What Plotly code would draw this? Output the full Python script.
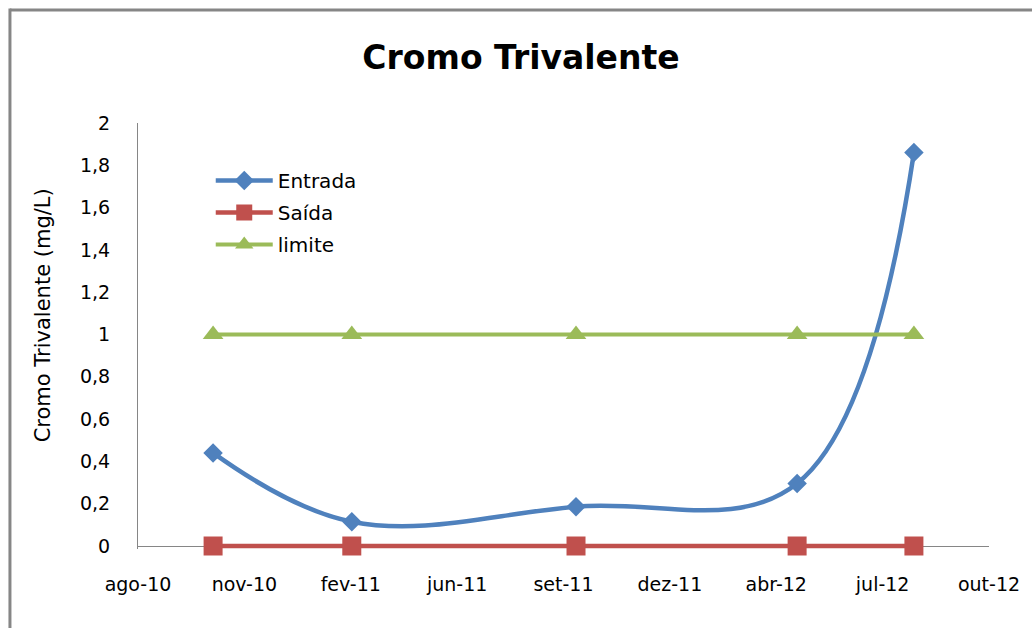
import plotly.graph_objects as go
import pandas as pd

dates = ["2010-10-12", "2011-02-22", "2011-09-25", "2012-04-24", "2012-08-14"]
entrada = [0.44, 0.115, 0.186, 0.296, 1.86]
saida = [0, 0, 0, 0, 0]
limite = [1, 1, 1, 1, 1]

tick_labels = ["ago-10", "nov-10", "fev-11", "jun-11", "set-11", "dez-11", "abr-12", "jul-12", "out-12"]
tick_dates = pd.date_range("2010-08-01", periods=len(tick_labels), freq="102D")

FONT = "DejaVu Sans"

fig = go.Figure()
fig.add_trace(go.Scatter(
    x=dates, y=entrada, name="Entrada", mode="lines+markers", legendgroup="a",
    line=dict(color="#4F81BD", width=4.5, shape="spline", smoothing=1.1),
    marker=dict(symbol="diamond", size=15, color="#4F81BD"), cliponaxis=False))
fig.add_trace(go.Scatter(
    x=dates, y=saida, name="Saída", mode="lines+markers", legendgroup="b",
    line=dict(color="#C0504D", width=4.5),
    marker=dict(symbol="square", size=19, color="#C0504D"), cliponaxis=False))
fig.add_trace(go.Scatter(
    x=dates, y=limite, name="limite", mode="lines+markers", legendgroup="c",
    line=dict(color="#9BBB59", width=4),
    marker=dict(symbol="triangle-up", size=18, color="#9BBB59"), cliponaxis=False))

W, H = 1032, 628
L, R, T, B = 138, 40, 123, 79
pw, ph = W - L - R, H - T - B
ymin = -3 / 211.5

def px(x):
    return (x - L) / pw

def py(y):
    return (H - B - y) / ph

fig.update_layout(
    width=W, height=H,
    margin=dict(l=L, r=R, t=T, b=B),
    paper_bgcolor="white", plot_bgcolor="white",
    separators=", ",
    font=dict(family=FONT, color="#000000", size=19),
    title=dict(text="<b>Cromo Trivalente</b>", x=521 / W, xanchor="center",
               xref="container", yref="container", y=1 - 57 / H, yanchor="middle",
               font=dict(family=FONT, size=33, color="#000000")),
    legend=dict(x=px(211), y=py(161), xanchor="left", yanchor="top",
                font=dict(family=FONT, size=20), tracegroupgap=3,
                bgcolor="rgba(0,0,0,0)", itemwidth=57),
    xaxis=dict(type="date", range=[tick_dates[0], tick_dates[-1]],
               tickvals=tick_dates, ticktext=tick_labels,
               showgrid=False, zeroline=False, showline=False, ticks="",
               ticklabelstandoff=22, tickfont=dict(size=19)),
    yaxis=dict(range=[ymin, 2], tickvals=[0, 0.2, 0.4, 0.6, 0.8, 1, 1.2, 1.4, 1.6, 1.8, 2],
               showgrid=False, zeroline=True, zerolinecolor="#868686", zerolinewidth=1,
               showline=True, linecolor="#868686", linewidth=1, ticks="",
               ticklabelstandoff=23, tickfont=dict(size=19)),
    showlegend=True,
)

fig.add_annotation(text="Cromo Trivalente (mg/L)", textangle=-90,
                   xref="paper", yref="paper", x=px(43), y=py(315),
                   showarrow=False, font=dict(family=FONT, size=21),
                   xanchor="center", yanchor="middle")

fig.add_shape(type="line", xref="paper", yref="paper",
              x0=px(9.5), x1=px(1040), y0=py(10), y1=py(10),
              line=dict(color="#868686", width=3))
fig.add_shape(type="line", xref="paper", yref="paper",
              x0=px(9.5), x1=px(9.5), y0=py(8.5), y1=py(640),
              line=dict(color="#868686", width=3))

fig.write_html("out.html", config={"displayModeBar": False},
               post_script="document.body.style.margin='0';")
